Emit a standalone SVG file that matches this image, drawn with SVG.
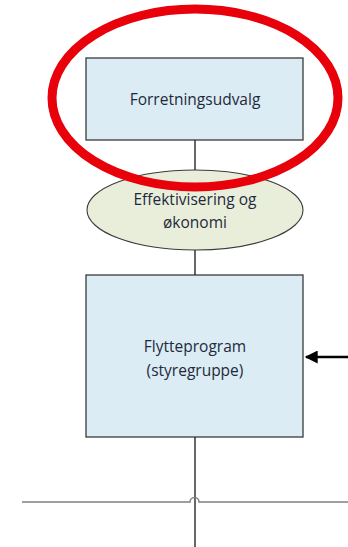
<svg xmlns="http://www.w3.org/2000/svg" width="348" height="547" viewBox="0 0 348 547">
<style>
.box{fill:#dbecf4;stroke:#3a3a3a;stroke-width:1.3}
.ell{fill:#e9eedb;stroke:#3a3a3a;stroke-width:1.1}
.t{font-family:"Open Sans","Liberation Sans",sans-serif;font-size:15.5px;fill:#1e2a3c;text-anchor:middle}
.ln{stroke:#000;stroke-width:1.2;fill:none}
</style>
<defs>
<marker id="ah" viewBox="0 0 10 10" refX="9" refY="5" markerWidth="5.5" markerHeight="5" orient="auto">
<path d="M0,0 L10,5 L0,10 z" fill="#000"/>
</marker>
</defs>
<rect width="348" height="547" fill="#fff"/>
<g id="connectors">
<line class="ln" x1="195" y1="140" x2="195" y2="171"/>
<line class="ln" x1="195" y1="250" x2="195" y2="275"/>
<path class="ln" d="M195,437 V547"/>
<path d="M22,502 H190 A4.5,4.5 0 0 1 199,502 H348" fill="none" stroke="#808080" stroke-width="1.5"/>
<line x1="348" y1="357" x2="306" y2="357" stroke="#000" stroke-width="2.6" marker-end="url(#ah)"/>
</g>
<g id="forretningsudvalg">
<rect class="box" x="86" y="58" width="217" height="82"/>
<text class="t" x="195" y="105">Forretningsudvalg</text>
</g>
<g id="effektivisering">
<ellipse class="ell" cx="195" cy="210" rx="108" ry="40"/>
<text class="t" x="195" y="205">Effektivisering og</text>
<text class="t" x="195" y="228">økonomi</text>
</g>
<g id="flytteprogram">
<rect class="box" x="86" y="275" width="217" height="162"/>
<text class="t" x="195" y="352">Flytteprogram</text>
<text class="t" x="195" y="376">(styregruppe)</text>
</g>
<g id="highlight">
<ellipse cx="195" cy="98" rx="143" ry="89" fill="none" stroke="#e8000a" stroke-width="9"/>
</g>
</svg>
